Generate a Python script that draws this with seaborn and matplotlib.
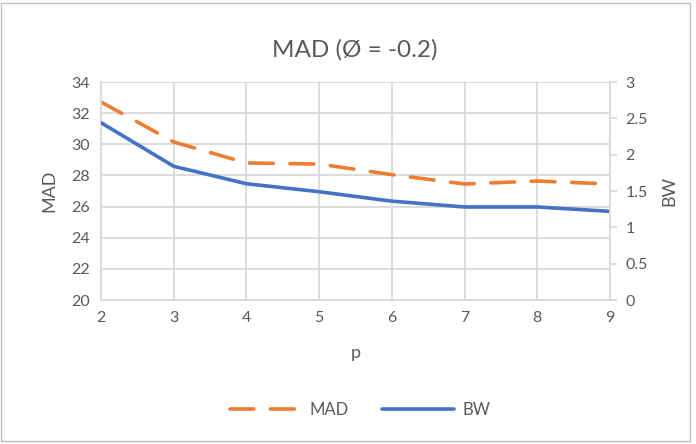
#MAD and BW against p, Excel-style chart with two y axes
import pandas as pd
import matplotlib.pyplot as plt
import seaborn as sns
from matplotlib.patches import Rectangle

#values
p_values = [2, 3, 4, 5, 6, 7, 8, 9]
mad_values = [32.72, 30.15, 28.8, 28.73, 28.05, 27.45, 27.64, 27.45]
bw_values = [2.44, 1.84, 1.6, 1.49, 1.36, 1.28, 1.28, 1.22]
left_ticks = [20, 22, 24, 26, 28, 30, 32, 34]
right_ticks = [0, 0.5, 1, 1.5, 2, 2.5, 3]
right_labels = ["0", "0.5", "1", "1.5", "2", "2.5", "3"]

df = pd.DataFrame({"p": p_values, "MAD": mad_values, "BW": bw_values})

sns.set_theme(style="white")
plt.rcParams["font.family"] = ["Lato", "DejaVu Sans"]

TXT = "#595959"
GRID = "#d9d9d9"
ORANGE = "#ED7D31"
BLUE = "#4472C4"

fig = plt.figure(figsize=(6.96, 4.44), dpi=100)
ax = fig.add_axes([101 / 696, 1 - 300 / 444, (610 - 101) / 696, (300 - 82) / 444])
ax2 = ax.twinx()

sns.lineplot(data=df, x="p", y="MAD", ax=ax, color=ORANGE, linewidth=2.6,
             dashes=False, legend=False)
ax.lines[0].set_dashes([6.6, 4.6])
ax.lines[0].set_dash_capstyle("round")
sns.lineplot(data=df, x="p", y="BW", ax=ax2, color=BLUE, linewidth=2.6, legend=False)
ax2.lines[0].set_solid_capstyle("round")

ax.set_xlim(2, 9)
ax.set_ylim(20, 34)
ax2.set_ylim(0, 3)
ax.set_xticks(p_values)
ax.set_yticks(left_ticks)
ax2.set_yticks(right_ticks)
ax2.set_yticklabels(right_labels)

ax.grid(True, color=GRID, linewidth=1.3)
ax.set_axisbelow(True)
ax2.grid(False)

for a in (ax, ax2):
    for s in a.spines.values():
        s.set_visible(False)
ax.spines["bottom"].set_visible(True)
ax.spines["bottom"].set_color(GRID)
ax.spines["bottom"].set_linewidth(1.3)
ax.spines["left"].set_visible(True)
ax.spines["left"].set_color(GRID)
ax.spines["left"].set_linewidth(1.3)
ax2.spines["right"].set_visible(True)
ax2.spines["right"].set_color(GRID)
ax2.spines["right"].set_linewidth(1.3)

ax.tick_params(axis="both", colors=TXT, labelsize=11.5, length=0, pad=8)
ax.tick_params(axis="x", pad=8)
ax2.tick_params(axis="y", colors=TXT, labelsize=11.5, length=5, width=1.3,
                direction="out", pad=6)
ax2.tick_params(axis="y", color=GRID)

ax.set_xlabel("p", color=TXT, fontsize=13, labelpad=14)
ax.set_ylabel("MAD", color=TXT, fontsize=13, labelpad=10)
ax2.set_ylabel("BW", color=TXT, fontsize=13, labelpad=10)

fig.text(355 / 696, 1 - 50 / 444, "MAD (Ø = -0.2)", ha="center", va="center",
         color=TXT, fontsize=17.5)

handles = [ax.lines[0], ax2.lines[0]]
leg = fig.legend(handles, ["MAD", "BW"], loc="center", bbox_to_anchor=(360 / 696, 1 - 410 / 444),
                 ncol=2, frameon=False, fontsize=12, handlelength=4.3, columnspacing=2.0,
                 handletextpad=0.5)
for t in leg.get_texts():
    t.set_color(TXT)

fig.patches.append(Rectangle((0.002, 0.006), 0.99, 0.988, transform=fig.transFigure,
                             fill=False, edgecolor="#bfbfbf", linewidth=1.0))

plt.savefig("out.png", dpi=100)
plt.close()
